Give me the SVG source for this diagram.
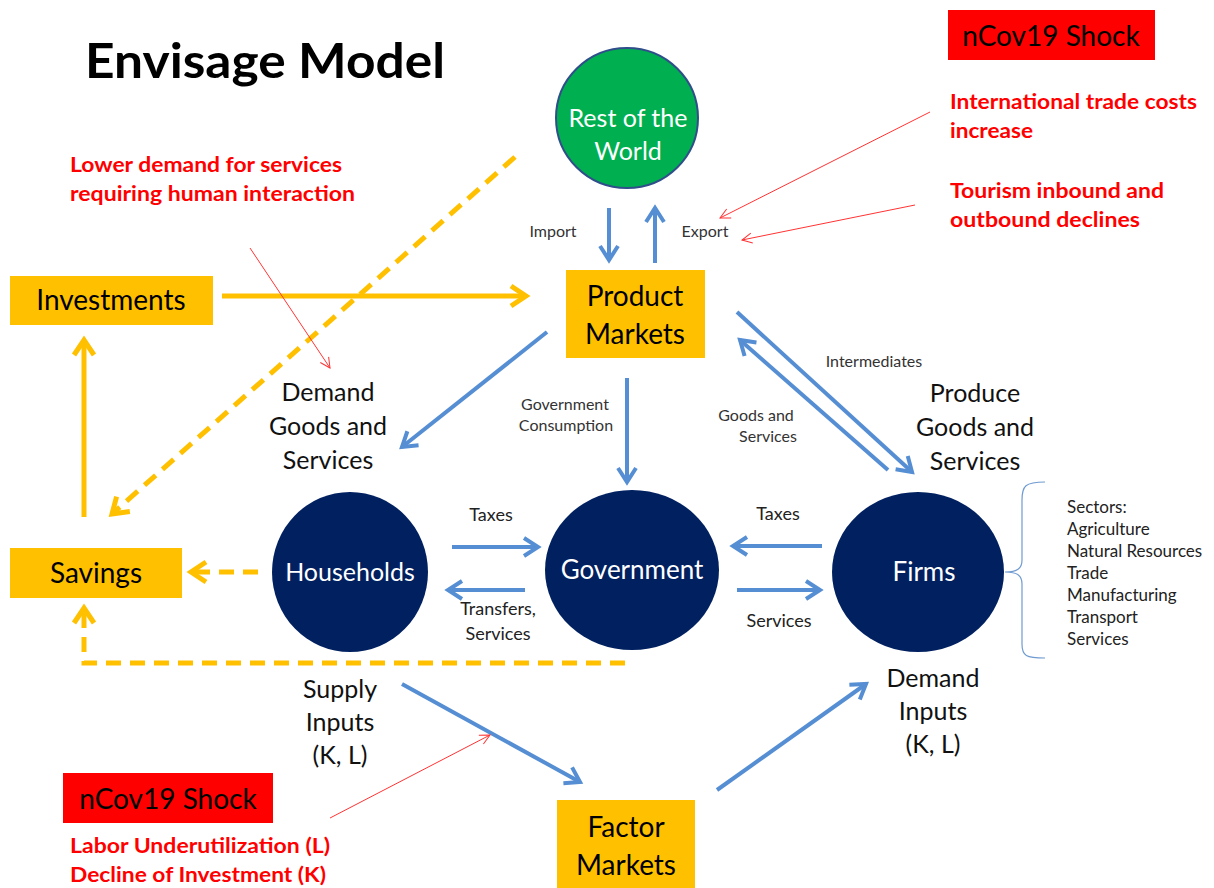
<svg xmlns="http://www.w3.org/2000/svg" width="1214" height="888" viewBox="0 0 1214 888">
<defs>
<style>
text{font-family:Lato,"Open Sans","Liberation Sans",sans-serif}
.ttl{font-size:47px;font-weight:bold;fill:#000}
.box{fill:#FFC000}
.shock{fill:#FF0000}
.bl{font-size:28px;fill:#000;text-anchor:middle}
.lbl{font-size:25px;fill:#111;text-anchor:middle}
.sm{font-size:16px;fill:#333;text-anchor:middle}
.md{font-size:18px;fill:#222;text-anchor:middle}
.red{font-size:20px;font-weight:bold;fill:#FF0000}
.wt{font-size:25px;fill:#fff;text-anchor:middle}
.sec{font-size:17px;fill:#222}
.blue{stroke:#568ED3;stroke-width:4;fill:none;marker-end:url(#bh)}
.or{stroke:#FFC000;stroke-width:5;fill:none;marker-end:url(#oh)}
.ord{stroke:#FFC000;stroke-width:5;fill:none;stroke-dasharray:15 9;marker-end:url(#oh)}
.rl{stroke:#FF3333;stroke-width:1;fill:none;marker-end:url(#rh)}
.navy{fill:#002060}
</style>
<marker id="bh" viewBox="0 0 24 24" refX="19" refY="12" markerWidth="24" markerHeight="24" markerUnits="userSpaceOnUse" orient="auto">
<path d="M5,3 L19,12 L5,21" fill="none" stroke="#568ED3" stroke-width="4"/>
</marker>
<marker id="oh" viewBox="0 0 26 26" refX="20" refY="13" markerWidth="26" markerHeight="26" markerUnits="userSpaceOnUse" orient="auto">
<path d="M5,3 L20,13 L5,23" fill="none" stroke="#FFC000" stroke-width="5"/>
</marker>
<marker id="rh" viewBox="0 0 12 12" refX="11" refY="6" markerWidth="12" markerHeight="12" markerUnits="userSpaceOnUse" orient="auto">
<path d="M1,1 L11,6 L1,11" fill="none" stroke="#FF3333" stroke-width="1"/>
</marker>
</defs>
<rect width="1214" height="888" fill="#fff"/>
<text class="ttl" x="85" y="78" textLength="360" lengthAdjust="spacingAndGlyphs">Envisage Model</text>

<g id="connectors">
<line class="blue" x1="609" y1="208" x2="609" y2="260"/>
<line class="blue" x1="655" y1="263" x2="655" y2="208"/>
<line class="or" x1="222" y1="296" x2="526" y2="296"/>
<line class="ord" x1="515" y1="157" x2="112" y2="514"/>
<line class="or" x1="84" y1="517" x2="84" y2="340"/>
<line class="ord" x1="258" y1="572" x2="191" y2="572"/>
<polyline class="ord" points="625,663 84,663 84,608"/>
<line class="blue" x1="547" y1="332" x2="402" y2="447"/>
<line class="blue" x1="627" y1="378" x2="627" y2="482"/>
<line class="blue" x1="737" y1="312" x2="912" y2="472"/>
<line class="blue" x1="888" y1="470" x2="740" y2="340"/>
<line class="blue" x1="452" y1="547" x2="538" y2="547"/>
<line class="blue" x1="525" y1="590" x2="448" y2="590"/>
<line class="blue" x1="822" y1="546" x2="733" y2="546"/>
<line class="blue" x1="737" y1="590" x2="820" y2="590"/>
<line class="blue" x1="402" y1="684" x2="580" y2="782"/>
<line class="blue" x1="717" y1="790" x2="866" y2="684"/>
<line class="rl" x1="930" y1="112" x2="720" y2="218"/>
<line class="rl" x1="915" y1="205" x2="742" y2="240"/>
<line class="rl" x1="250" y1="248" x2="330" y2="368"/>
<line class="rl" x1="330" y1="818" x2="490" y2="735"/>
</g>

<g id="rest-of-world">
<ellipse cx="627" cy="118" rx="71" ry="70" fill="#00B050" stroke="#2F4E8A" stroke-width="2"/>
<text class="wt" x="628" y="127">Rest of the</text>
<text class="wt" x="628" y="160">World</text>
</g>
<text class="sm" x="553" y="237">Import</text>
<text class="sm" x="705" y="237">Export</text>

<g id="product-markets">
<rect class="box" x="566" y="270" width="139" height="88"/>
<text class="bl" x="635" y="306">Product</text>
<text class="bl" x="635" y="344">Markets</text>
</g>

<g id="investments">
<rect class="box" x="10" y="276" width="203" height="49"/>
<text class="bl" x="111" y="310">Investments</text>
</g>

<g id="savings">
<rect class="box" x="10" y="548" width="172" height="50"/>
<text class="bl" x="96" y="583">Savings</text>
</g>

<g id="households">
<ellipse class="navy" cx="350" cy="572" rx="78" ry="80"/>
<text class="wt" x="350" y="581">Households</text>
</g>

<g id="government">
<ellipse class="navy" cx="632" cy="570" rx="87" ry="80"/>
<text class="wt" x="632" y="579" style="font-size:26px">Government</text>
</g>

<g id="firms">
<ellipse class="navy" cx="918" cy="572" rx="86" ry="80"/>
<text class="wt" x="924" y="581" style="font-size:26px">Firms</text>
</g>

<g id="factor-markets">
<rect class="box" x="557" y="800" width="138" height="88"/>
<text class="bl" x="626" y="837">Factor</text>
<text class="bl" x="626" y="875">Markets</text>
</g>

<g id="shock-top">
<rect class="shock" x="948" y="10" width="207" height="50"/>
<text class="bl" x="1051" y="46">nCov19 Shock</text>
</g>
<g id="shock-bottom">
<rect class="shock" x="63" y="773" width="210" height="50"/>
<text class="bl" x="168" y="809">nCov19 Shock</text>
</g>

<text class="red" x="950" y="109" textLength="247" lengthAdjust="spacingAndGlyphs">International trade costs</text>
<text class="red" x="950" y="138" textLength="83" lengthAdjust="spacingAndGlyphs">increase</text>
<text class="red" x="950" y="198" textLength="214" lengthAdjust="spacingAndGlyphs">Tourism inbound and</text>
<text class="red" x="950" y="227" textLength="190" lengthAdjust="spacingAndGlyphs">outbound  declines</text>
<text class="red" x="70" y="172" textLength="272" lengthAdjust="spacingAndGlyphs">Lower demand for services</text>
<text class="red" x="70" y="201" textLength="285" lengthAdjust="spacingAndGlyphs">requiring human  interaction</text>
<text class="red" x="70" y="853" textLength="260" lengthAdjust="spacingAndGlyphs">Labor Underutilization (L)</text>
<text class="red" x="70" y="882" textLength="256" lengthAdjust="spacingAndGlyphs">Decline of Investment (K)</text>

<text class="lbl" x="328" y="401">Demand</text>
<text class="lbl" x="328" y="435">Goods and</text>
<text class="lbl" x="328" y="469">Services</text>
<text class="lbl" x="975" y="402">Produce</text>
<text class="lbl" x="975" y="436">Goods and</text>
<text class="lbl" x="975" y="470">Services</text>
<text class="lbl" x="340" y="698">Supply</text>
<text class="lbl" x="340" y="731">Inputs</text>
<text class="lbl" x="340" y="764">(K, L)</text>
<text class="lbl" x="933" y="687">Demand</text>
<text class="lbl" x="933" y="720">Inputs</text>
<text class="lbl" x="933" y="753">(K, L)</text>

<text class="sm" x="565" y="410">Government</text>
<text class="sm" x="566" y="431">Consumption</text>
<text class="sm" x="874" y="367">Intermediates</text>
<text class="sm" x="756" y="421">Goods and</text>
<text class="sm" x="768" y="442">Services</text>
<text class="md" x="491" y="521">Taxes</text>
<text class="md" x="498" y="615">Transfers,</text>
<text class="md" x="498" y="640">Services</text>
<text class="md" x="778" y="520">Taxes</text>
<text class="md" x="779" y="627">Services</text>

<g id="sectors">
<path d="M1045,482 C1025,482 1022,486 1022,500 L1022,560 C1022,568 1018,572 1005,572 C1018,572 1022,576 1022,584 L1022,644 C1022,656 1026,658 1045,658" fill="none" stroke="#6F9BD1" stroke-width="1.2"/>
<text class="sec" x="1067" y="513">Sectors:</text>
<text class="sec" x="1067" y="535">Agriculture</text>
<text class="sec" x="1067" y="557">Natural Resources</text>
<text class="sec" x="1067" y="579">Trade</text>
<text class="sec" x="1067" y="601">Manufacturing</text>
<text class="sec" x="1067" y="623">Transport</text>
<text class="sec" x="1067" y="645">Services</text>
</g>
</svg>
